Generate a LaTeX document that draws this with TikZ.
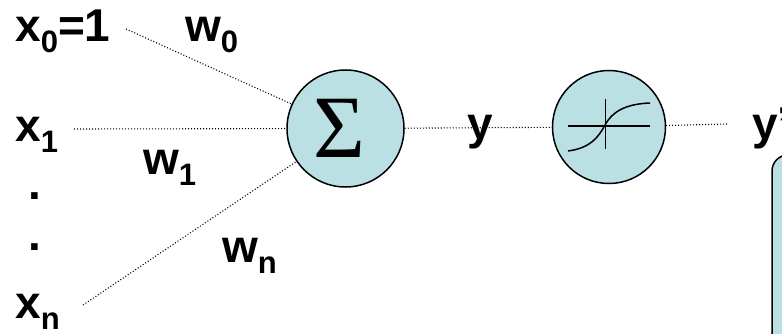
\documentclass[tikz,border=0pt]{standalone}
\usepackage{fontspec}
\setmainfont{Liberation Sans}
\newfontfamily\sigfont{Liberation Serif}
\definecolor{cellblue}{RGB}{186,224,228}
\newcommand\sbs[1]{\raisebox{-11pt}{\fontsize{31}{31}\selectfont #1}}
\begin{document}
\begin{tikzpicture}[x=1pt,y=-1pt,
  lbl/.style={anchor=base west, inner sep=0pt, font=\fontsize{46}{46}\selectfont\bfseries},
  cell/.style={circle, draw=black, line width=1.5pt, fill=cellblue, inner sep=0pt},
  wire/.style={draw=black, line width=1.1pt, dash pattern=on 1pt off 2pt},
  curveline/.style={line width=1.5pt}]
\useasboundingbox (0,0) rectangle (782,334);
\clip (0,0) rectangle (782,334);
% rounded box at the right edge
\draw[line width=1.5pt, fill=cellblue, rounded corners=16pt] (772,155) rectangle (950,450);
% input anchors
\coordinate (x0s) at (126,29);
\coordinate (x1s) at (74,129);
\coordinate (xns) at (83,305);
\coordinate (yps) at (727,124);
% cells
\node[cell, minimum size=117pt] (sig) at (345.5,128.5) {};
\node[inner sep=0pt, font=\fontsize{89}{89}\selectfont\sigfont] (sigma) at (339.5,128.5) {Σ};
\node[cell, minimum size=113pt] (act) at (609,127) {};
% sigmoid icon
\draw[curveline] (568,126) -- (650,126);
\draw[curveline] (605.7,99) -- (605.7,149);
\draw[curveline] (568,151) .. controls (590,148) and (598,138) .. (605,125)
  .. controls (612,112) and (625,104) .. (650,103);
% connectors
\draw[wire] (x0s) -- (sig);
\draw[wire] (x1s) -- (sig);
\draw[wire] (xns) -- (sig);
\draw[wire] (sig) -- (act);
\draw[wire] (act) -- (yps);
% labels
\node[lbl] (lx0) at (15,42) {x\sbs{0}=1};
\node[lbl] (lw0) at (185,42) {w\sbs{0}};
\node[lbl] (lx1) at (15,142) {x\sbs{1}};
\node[lbl] (lw1) at (143,175) {w\sbs{1}};
\node[lbl] (d1) at (28,200) {.};
\node[lbl] (d2) at (28,250) {.};
\node[lbl] (lxn) at (15,318) {x\sbs{n}};
\node[lbl] (lwn) at (222,262) {w\sbs{n}};
\node[lbl] (ly) at (467,140) {y};
\node[lbl] (lyp) at (752,140) {y'};
\end{tikzpicture}
\end{document}
